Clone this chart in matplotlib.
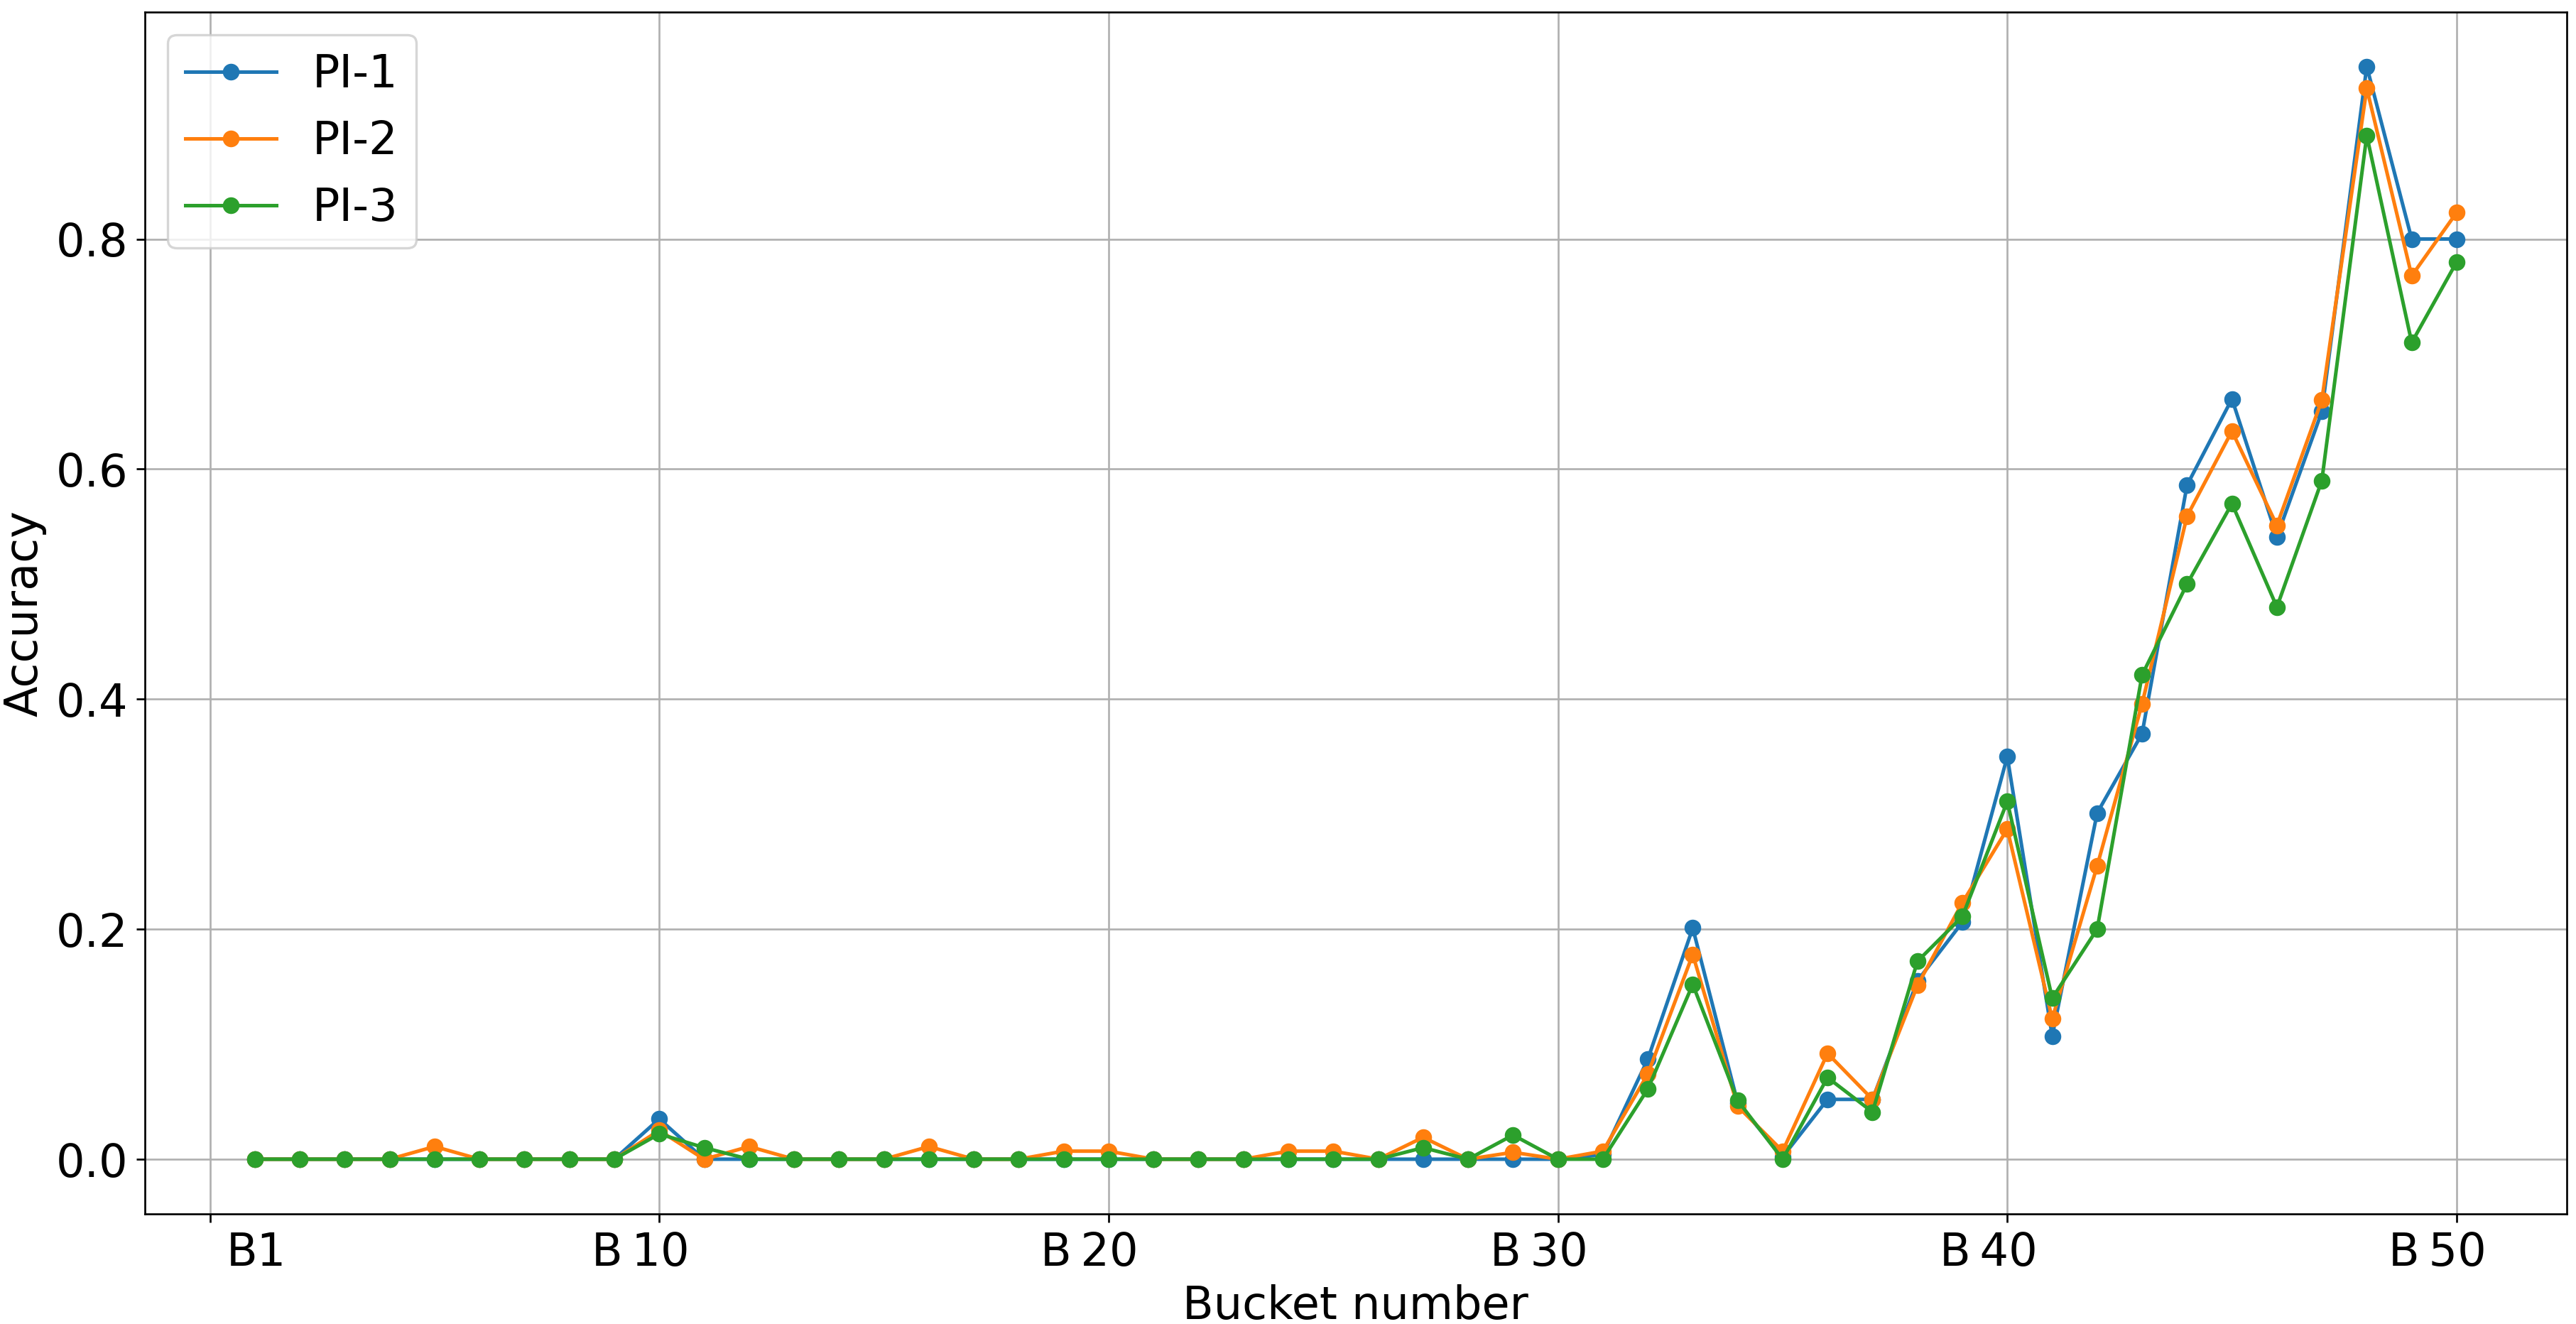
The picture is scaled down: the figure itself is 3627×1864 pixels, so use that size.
import matplotlib
matplotlib.use('Agg')
import matplotlib.pyplot as plt
import matplotlib.transforms as mtransforms

# bucket index 1..50
buckets = list(range(1, 51))

pi1 = [0, 0, 0, 0, 0, 0, 0, 0, 0, 0.035,
       0, 0, 0, 0, 0, 0, 0, 0, 0, 0,
       0, 0, 0, 0, 0, 0, 0, 0, 0, 0,
       0.004, 0.087, 0.201, 0.049, 0.002, 0.052, 0.052, 0.155, 0.206, 0.350,
       0.107, 0.301, 0.370, 0.586, 0.661, 0.541, 0.650, 0.950, 0.800, 0.800]

pi2 = [0, 0, 0, 0, 0.011, 0, 0, 0, 0, 0.025,
       0, 0.011, 0, 0, 0, 0.011, 0, 0, 0.007, 0.007,
       0, 0, 0, 0.007, 0.007, 0, 0.019, 0, 0.006, 0,
       0.007, 0.074, 0.178, 0.046, 0.007, 0.092, 0.052, 0.151, 0.223, 0.287,
       0.122, 0.255, 0.396, 0.559, 0.633, 0.551, 0.660, 0.931, 0.768, 0.823]

pi3 = [0, 0, 0, 0, 0, 0, 0, 0, 0, 0.022,
       0.010, 0, 0, 0, 0, 0, 0, 0, 0, 0,
       0, 0, 0, 0, 0, 0, 0.010, 0, 0.021, 0,
       0, 0.061, 0.152, 0.051, 0, 0.071, 0.041, 0.172, 0.211, 0.311,
       0.140, 0.200, 0.421, 0.500, 0.570, 0.480, 0.590, 0.890, 0.710, 0.780]

tick_pos = [0, 10, 20, 30, 40, 50]
tick_labels = ['B1', 'B\u200910', 'B\u200920', 'B\u200930', 'B\u200940', 'B\u200950']
# the labels in the original sit a bit off their ticks
label_shift_pt = [19.5, -8, -8, -8, -8, -8]

plt.rcParams['font.size'] = 19

fig, ax = plt.subplots(figsize=(15, 7.71), dpi=241.8)
fig.subplots_adjust(left=0.0562, right=0.9964, top=0.9909, bottom=0.0832)

ax.plot(buckets, pi1, marker='o', label='PI-1')
ax.plot(buckets, pi2, marker='o', label='PI-2')
ax.plot(buckets, pi3, marker='o', label='PI-3')

ax.set_xticks(tick_pos)
ax.set_xticklabels(tick_labels)
for lbl, dx in zip(ax.get_xticklabels(), label_shift_pt):
    lbl.set_transform(lbl.get_transform() +
                      mtransforms.ScaledTranslation(dx / 72, 0, fig.dpi_scale_trans))

ax.set_xlabel('Bucket number')
ax.set_ylabel('Accuracy')
ax.grid(True)
ax.legend(loc='upper left')

fig.savefig('out.png', dpi=241.8)
